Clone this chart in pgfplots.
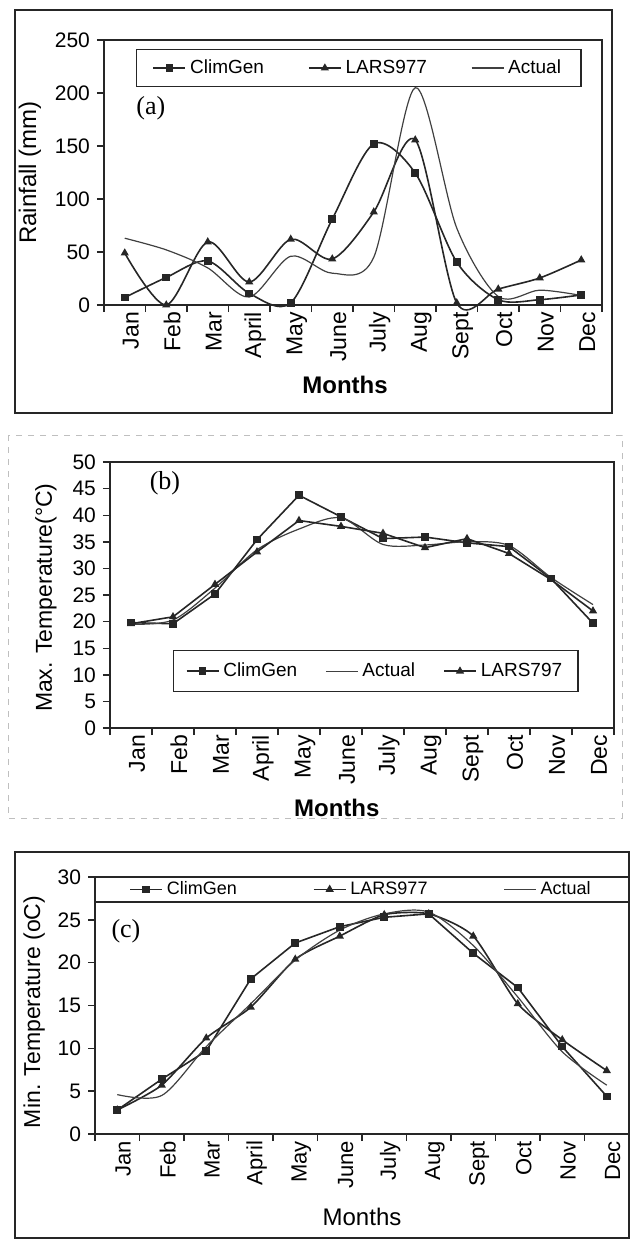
\documentclass[border=0pt]{standalone}
\usepackage{fontspec}
\setmainfont{Liberation Sans}
\newfontfamily\timesfont{Liberation Serif}
\usepackage{pgfplots}
\usepackage{pgfplotstable}
\pgfplotsset{compat=1.18}

\pgfplotstableread{
m cg lars act
0 7 49 63
1 26 0 52
2 41.5 59.5 35
3 11 21.7 7.5
4 2 62 46
5 81 43.4 30
6 152 87.7 45
7 124.5 155.7 205
8 40.5 2 72.6
9 5 15 8
10 5 25.5 14
11 9.5 42.5 9
}\rain

\pgfplotstableread{
m cg lars act
0 19.8 19.6 19.5
1 19.6 20.9 20.3
2 25.2 27 26.3
3 35.4 33.1 33.5
4 43.75 39 37.4
5 39.7 37.9 39.5
6 35.6 36.6 34.5
7 35.9 33.9 34.4
8 34.8 35.6 35
9 34.1 32.8 34.3
10 28.1 27.9 28.3
11 19.7 22 23.2
}\tmax

\pgfplotstableread{
m cg lars act
0 2.8 2.8 4.6
1 6.4 5.7 4.5
2 9.7 11.2 10.2
3 18.1 14.8 15.2
4 22.3 20.4 20.3
5 24.2 23.1 23.8
6 25.3 25.6 25.7
7 25.7 25.7 25.9
8 21.1 23.1 22
9 17.1 15.2 16
10 10.2 11.0 9.6
11 4.4 7.4 5.7
}\tmin

\newcommand\monthfont{\fontsize{11.5}{13}\selectfont}

\pgfplotsset{
  monthaxis/.style={
    scale only axis,
    anchor=south west,
    xmin=-0.5, xmax=11.5,
    ymin=0,
    xtick={-0.5,0.5,...,11.5},
    xticklabels={},
    extra x ticks={0,1,...,11},
    extra x tick labels={Jan,Feb,Mar,April,May,June,July,Aug,Sept,Oct,Nov,Dec},
    extra x tick style={major tick length=0pt,
      tick label style={rotate=90, anchor=east, yshift=-3pt, font=\monthfont}},
    xtick pos=bottom, ytick pos=left,
    tick align=outside,
    major tick length=3.5pt,
    axis line style={black!85, line width=0.7pt},
    tick style={black!85, line width=0.7pt},
    /pgf/number format/assume math mode=true,
    tick label style={font=\fontsize{10.5}{12}\selectfont},
    clip=false,
    legend cell align=left,
    legend image code/.code={\draw[mark repeat=2,mark phase=2] plot coordinates {(0pt,0pt) (8pt,0pt) (16pt,0pt)};},
  },
  cgstyle/.style={black!85, line width=0.8pt, mark=square*, mark size=1.5pt, mark options={solid}},
  larsstyle/.style={black!85, line width=0.8pt, mark=triangle*, mark size=1.6pt, mark options={solid}},
  actstyle/.style={black!75, line width=0.6pt, no marks},
}

\begin{document}
\begin{tikzpicture}
\useasboundingbox (0,0) rectangle (315pt,-620.5pt);
% outer frames
\draw[black!85, line width=0.8pt] (7.5pt,-5pt) rectangle (306pt,-206.5pt);
\draw[black!25, line width=0.4pt, dashed] (4pt,-217.5pt) rectangle (311pt,-409pt);
\draw[black!85, line width=0.8pt] (7.5pt,-426pt) rectangle (314.5pt,-619pt);

% ---------- (a) ----------
\begin{axis}[monthaxis,
  at={(52pt,-152.5pt)}, width=249pt, height=132.5pt,
  ymax=250, ytick={0,50,...,250},
  ylabel={Rainfall (mm)},
  ylabel style={at={(axis description cs:-0.149,0.5)}, anchor=center, font=\fontsize{12}{14}\selectfont},
  xlabel={Months},
  xlabel style={at={(axis description cs:0.484,-0.302)}, anchor=center, font=\bfseries\fontsize{12}{14}\selectfont},
  legend style={at={(rel axis cs:0.064,0.966)}, anchor=north west, legend columns=3,
    draw=black!85, line width=0.7pt, font=\fontsize{9.5}{11}\selectfont,
    inner xsep=8pt, inner ysep=3pt,
    /tikz/every even column/.append style={column sep=20pt}},
]
\addplot[cgstyle, smooth, tension=0.5] table[x=m, y=cg] {\rain};
\addlegendentry{ClimGen}
\addplot[larsstyle, smooth, tension=0.5] table[x=m, y=lars] {\rain};
\addlegendentry{LARS977}
\addplot[actstyle, smooth, tension=0.5] table[x=m, y=act] {\rain};
\addlegendentry{Actual}
\node at (rel axis cs:0.094,0.743) {\timesfont\fontsize{13}{15}\selectfont (a)};
\end{axis}

% ---------- (b) ----------
\begin{axis}[monthaxis,
  at={(55pt,-364pt)}, width=252pt, height=133pt,
  ymax=50, ytick={0,5,...,50},
  ylabel={Max. Temperature(\textdegree C)},
  ylabel style={at={(axis description cs:-0.127,0.49)}, anchor=center, font=\fontsize{11.5}{13}\selectfont},
  xlabel={Months},
  xlabel style={at={(axis description cs:0.45,-0.30)}, anchor=center, font=\bfseries\fontsize{12}{14}\selectfont},
  legend style={at={(rel axis cs:0.125,0.293)}, anchor=north west, legend columns=3,
    draw=black!85, line width=0.7pt, font=\fontsize{9.5}{11}\selectfont,
    inner xsep=6pt, inner ysep=4pt,
    /tikz/every even column/.append style={column sep=12pt}},
]
\addplot[cgstyle] table[x=m, y=cg] {\tmax};
\addlegendentry{ClimGen}
\addplot[actstyle, smooth, tension=0.5] table[x=m, y=act] {\tmax};
\addlegendentry{Actual}
\addplot[larsstyle] table[x=m, y=lars] {\tmax};
\addlegendentry{LARS797}
\node at (rel axis cs:0.109,0.92) {\timesfont\fontsize{13}{15}\selectfont (b)};
\end{axis}

% ---------- (c) ----------
\renewcommand\monthfont{\fontsize{11}{13}\selectfont}
\begin{axis}[monthaxis,
  at={(47.5pt,-567pt)}, width=267pt, height=128.5pt,
  ymax=30, ytick={0,5,...,30},
  ylabel={Min. Temperature (oC)},
  ylabel style={at={(axis description cs:-0.114,0.475)}, anchor=center, font=\fontsize{11.5}{13}\selectfont},
  xlabel={Months},
  xlabel style={at={(axis description cs:0.50,-0.323)}, anchor=center, font=\fontsize{12}{14}\selectfont},
  legend style={at={(rel axis cs:0.5,0.952)}, anchor=center, legend columns=3,
    draw=none, fill=none, font=\fontsize{9}{11}\selectfont,
    /tikz/every even column/.append style={column sep=36pt}},
]
\addplot[cgstyle] table[x=m, y=cg] {\tmin};
\addlegendentry{ClimGen}
\addplot[larsstyle, smooth, tension=0.4] table[x=m, y=lars] {\tmin};
\addlegendentry{LARS977}
\addplot[actstyle, smooth, tension=0.5] table[x=m, y=act] {\tmin};
\addlegendentry{Actual}
\draw[black!85, line width=0.7pt] (rel axis cs:0,0.903) -- (rel axis cs:1,0.903);
\node at (rel axis cs:0.058,0.79) {\timesfont\fontsize{13}{15}\selectfont (c)};
\end{axis}
\end{tikzpicture}
\end{document}
